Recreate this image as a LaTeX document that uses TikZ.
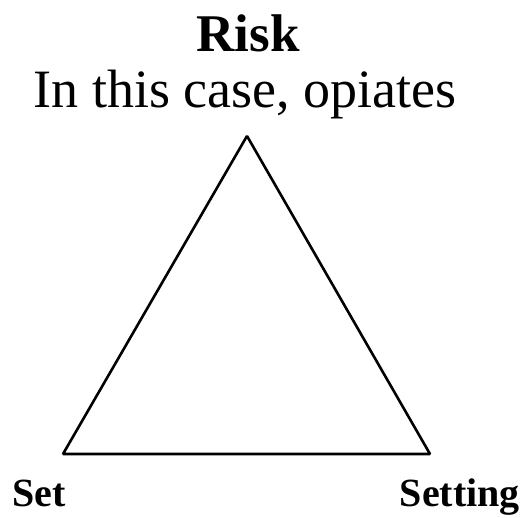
\documentclass[tikz,border=0pt]{standalone}
\usepackage{fontspec}
\setmainfont{Liberation Serif}
\usetikzlibrary{positioning}

\begin{document}
\begin{tikzpicture}[x=1pt, y=1pt, corner/.style={font=\fontsize{40}{40}\selectfont\bfseries}]
    \useasboundingbox (0,0) rectangle (525,517);
    % the three corners
    \coordinate (risk) at (247,381);
    \coordinate (set) at (63,63);
    \coordinate (setting) at (430,63);
    \draw [line width=2.6pt, line join=bevel] (risk) -- (set) -- (setting) -- cycle;
    \node[anchor=base, font=\fontsize{53}{53}\selectfont\bfseries] (risklabel) at (248,465) {Risk};
    \node[anchor=base, font=\fontsize{54}{54}\selectfont] (opiates) at (245,409) {In this case, opiates};
    \node[corner, anchor=base west, inner sep=0pt] (setlabel) at (12,10) {Set};
    \node[corner, anchor=base east, inner sep=0pt] (settinglabel) at (520,10) {Setting};
\end{tikzpicture}
\end{document}
